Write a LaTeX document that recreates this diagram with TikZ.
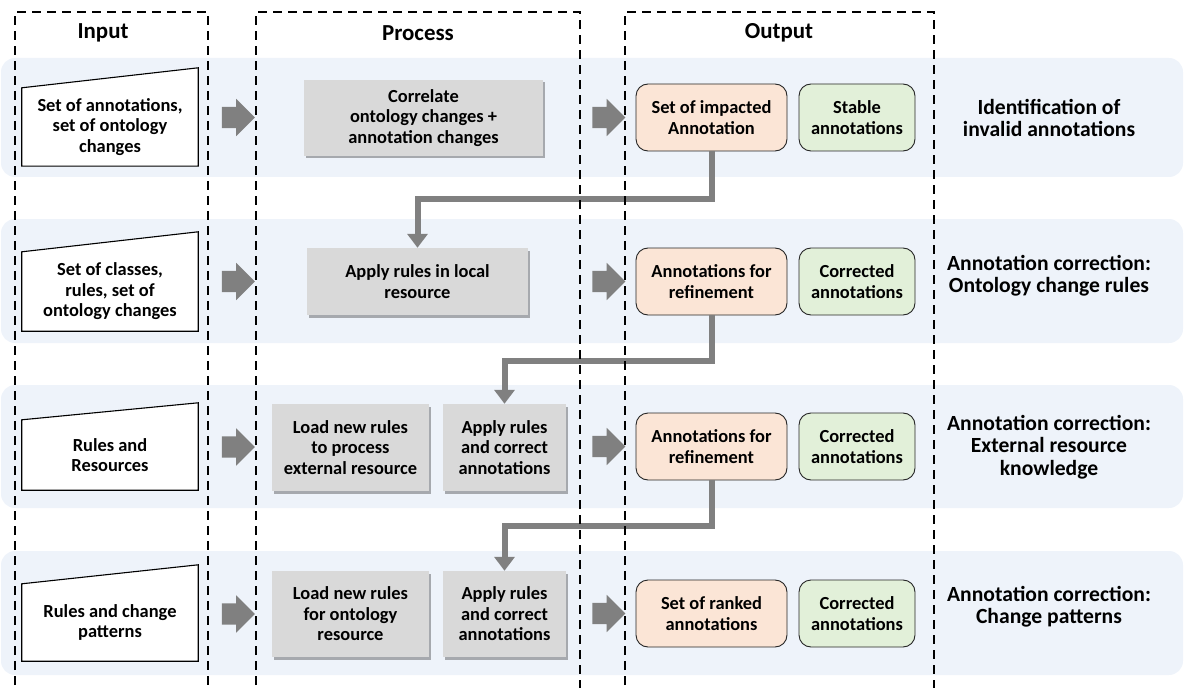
\documentclass[tikz,border=0pt]{standalone}
\usepackage{fontspec}
\setmainfont{Carlito}
\usepackage{tikz}
\usetikzlibrary{arrows.meta,shapes.arrows,shadows}

\definecolor{bandblue}{HTML}{EEF3FA}
\definecolor{procgray}{HTML}{D9D9D9}
\definecolor{flowgray}{HTML}{808080}
\definecolor{outorange}{HTML}{FBE5D6}
\definecolor{outgreen}{HTML}{E2F0D9}

\begin{document}
\begin{tikzpicture}[x=1bp,y=-1bp,
  >/.tip={Triangle[width=20bp,length=14bp]},
  font=\bfseries\fontsize{18.5}{20.5}\selectfont,
  head/.style={font=\bfseries\fontsize{23}{26}\selectfont},
  stage/.style={align=center,font=\bfseries\fontsize{21.7}{22.5}\selectfont},
  band/.style={fill=bandblue,rounded corners=14bp},
  lane/.style={line width=2.4bp,dash pattern=on 9bp off 6bp},
  inbox/.style={minimum width=176bp,inner sep=0pt,align=center},
  slant/.style={draw,line width=1.1bp,fill=white},
  proc/.style={fill=procgray,inner sep=0pt,align=center,
    drop shadow={shadow xshift=1.5bp,shadow yshift=-2.5bp,fill=black,opacity=0.3}},
  impact/.style={draw=black!85,line width=0.9bp,fill=outorange,rounded corners=12bp,
    minimum width=151bp,minimum height=67bp,inner sep=0pt,align=center},
  kept/.style={impact,fill=outgreen,minimum width=116bp},
  flow/.style={single arrow,fill=flowgray,inner xsep=0pt,inner ysep=10.5bp,
    minimum height=33bp,single arrow head extend=8bp},
  link/.style={draw=flowgray,line width=6bp}]

\useasboundingbox (0,0) rectangle (1184,688);

% rows
\fill[band] (1,58)  rectangle (1183,177);
\fill[band] (1,219) rectangle (1183,343);
\fill[band] (1,385) rectangle (1183,508);
\fill[band] (1,551) rectangle (1183,675);

\node (hin)  [head] at (103,33) {Input};
\node (hpro) [head] at (418,33) {Process};
\node (hout) [head] at (779,33) {Output};

% inputs
\node (in1) [inbox,minimum height=78bp] at (110,127)   {};
\node (in2) [inbox,minimum height=79bp] at (110,291.5) {};
\node (in3) [inbox,minimum height=70bp] at (110,455)   {};
\node (in4) [inbox,minimum height=77bp] at (110,622.5) {};
\draw[slant] (in1.south west) -- (in1.north west) -- ([yshift=20bp]in1.north east) -- (in1.south east) -- cycle;
\draw[slant] (in2.south west) -- (in2.north west) -- ([yshift=20bp]in2.north east) -- (in2.south east) -- cycle;
\draw[slant] (in3.south west) -- (in3.north west) -- ([yshift=17bp]in3.north east) -- (in3.south east) -- cycle;
\draw[slant] (in4.south west) -- (in4.north west) -- ([yshift=19bp]in4.north east) -- (in4.south east) -- cycle;
\node [align=center] at (in1) {Set of annotations,\\set of ontology\\changes};
\node [align=center] at (in2) {Set of classes,\\rules, set of\\ontology changes};
\node [align=center] at (in3) {Rules and\\Resources};
\node [align=center] at (in4) {Rules and change\\patterns};

% process steps
\node (p1)  [proc,minimum width=239bp,minimum height=76bp] at (423.5,118)   {Correlate\\ontology changes +\\annotation changes};
\node (p2)  [proc,minimum width=221bp,minimum height=67bp] at (417.5,281.5) {Apply rules in local\\resource};
\node (p3a) [proc,minimum width=157bp,minimum height=87bp] at (350.5,447.5) {Load new rules\\to process\\external resource};
\node (p3b) [proc,minimum width=123bp,minimum height=87bp] at (504.5,447.5) {Apply rules\\and correct\\annotations};
\node (p4a) [proc,minimum width=157bp,minimum height=86bp] at (350.5,614)   {Load new rules\\for ontology\\resource};
\node (p4b) [proc,minimum width=123bp,minimum height=86bp] at (504.5,614)   {Apply rules\\and correct\\annotations};

% outputs
\node (o1) [impact] at (711.5,117.5) {Set of impacted\\Annotation};
\node (g1) [kept]   at (857,117.5)   {Stable\\annotations};
\node (o2) [impact] at (711.5,281.5) {Annotations for\\refinement};
\node (g2) [kept]   at (857,281.5)   {Corrected\\annotations};
\node (o3) [impact] at (711.5,446.5) {Annotations for\\refinement};
\node (g3) [kept]   at (857,446.5)   {Corrected\\annotations};
\node (o4) [impact] at (711.5,613.5) {Set of ranked\\annotations};
\node (g4) [kept]   at (857,613.5)   {Corrected\\annotations};

\node (s1) [stage] at (1049,118) {Identification of\\invalid annotations};
\node (s2) [stage] at (1049,276) {Annotation correction:\\Ontology change rules};
\node (s3) [stage] at (1049,447) {Annotation correction:\\External resource\\knowledge};
\node (s4) [stage] at (1049,607) {Annotation correction:\\Change patterns};

% block arrows between the columns
\node (f1)  [flow] at (233,117.5) {};
\node (f2)  [flow] at (233,281.5) {};
\node (f3)  [flow] at (233,447)   {};
\node (f4)  [flow] at (233,614)   {};
\node (f5)  [flow] at (603.5,117.5) {};
\node (f6)  [flow] at (603.5,281.5) {};
\node (f7)  [flow] at (603.5,446.5) {};
\node (f8)  [flow] at (603.5,613.5) {};

% feedback into the next row
\coordinate (k1) at (0,199);
\coordinate (k2) at (0,361);
\coordinate (k3) at (0,526);
\draw[link,->] (o1.south) -- (o1.south |- k1) -| (p2.north);
\draw[link,->] (o2.south) -- (o2.south |- k2) -| (p3b.north);
\draw[link,->] (o3.south) -- (o3.south |- k3) -| (p4b.north);

% columns
\draw[lane] (15,700)  -- (15,12)  -- (208,12) -- (208,700);
\draw[lane] (256,700) -- (256,12) -- (580,12) -- (580,700);
\draw[lane] (625,700) -- (625,12) -- (934,12) -- (934,700);

\end{tikzpicture}
\end{document}
